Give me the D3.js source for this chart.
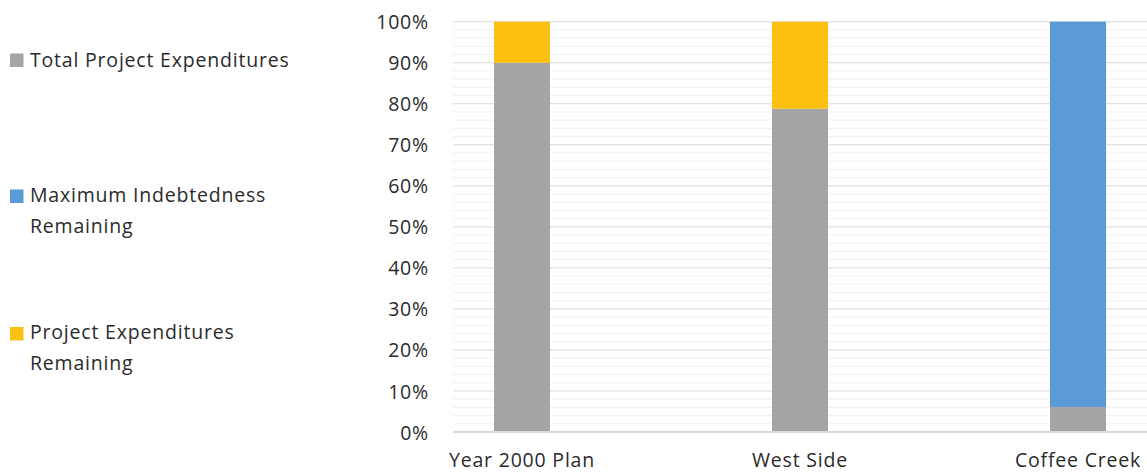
<!DOCTYPE html>
<html><head><meta charset="utf-8">
<script src="https://cdn.jsdelivr.net/npm/d3@7"></script>
<style>body{margin:0;background:#fff}svg{display:block}text{font-family:"Open Sans",sans-serif;fill:#2b2b2b}</style>
</head><body>
<svg id="c" width="1147" height="474"></svg>
<script>
const categories = ["Year 2000 Plan", "West Side", "Coffee Creek"];
const seriesNames = ["Total Project Expenditures", "Maximum Indebtedness Remaining", "Project Expenditures Remaining"];
const totalProjectExpenditures = [90, 78.8, 6.1];
const maxIndebtednessRemaining = [0, 0, 93.9];
const projectExpendituresRemaining = [10, 21.2, 0];
const yTicks = [0, 10, 20, 30, 40, 50, 60, 70, 80, 90, 100];
const colors = ["#a5a5a5", "#5b9bd5", "#fcc010"];

const FS = "19.5px", LS = "0.8px", TC = "#2b2b2b";
const svg = d3.select("#c");
const plotL = 453, plotR = 1147, yBot = 432, yTop = 21.7;
const y = d3.scaleLinear().domain([0, 100]).range([yBot, yTop]);
const x = d3.scaleBand().domain(categories).range([383, 1217]).paddingInner(0.8).paddingOuter(0.4);

// minor grid
const minor = d3.range(2, 100, 2).filter(v => v % 10 !== 0);
svg.append("g").selectAll("line").data(minor).join("line")
  .attr("x1", plotL).attr("x2", plotR).attr("y1", d => y(d)).attr("y2", d => y(d))
  .attr("stroke", "#f0f0f0").attr("stroke-width", 1);
// major grid
svg.append("g").selectAll("line").data(yTicks.filter(v => v > 0)).join("line")
  .attr("x1", plotL).attr("x2", plotR).attr("y1", d => y(d)).attr("y2", d => y(d))
  .attr("stroke", "#d9d9d9").attr("stroke-width", 1);

// stacked bars
const rows = categories.map((c, i) => ({cat: c, a: totalProjectExpenditures[i], b: maxIndebtednessRemaining[i], c2: projectExpendituresRemaining[i]}));
const stack = d3.stack().keys(["a", "b", "c2"])(rows);
const bw = 56;
svg.append("g").selectAll("g").data(stack).join("g").attr("fill", (d, i) => colors[i])
  .selectAll("rect").data(d => d).join("rect")
  .attr("x", d => x(d.data.cat) + x.bandwidth() / 2 - bw / 2).attr("width", bw)
  .attr("y", d => y(d[1])).attr("height", d => y(d[0]) - y(d[1]));

// baseline
svg.append("line").attr("x1", plotL).attr("x2", plotR).attr("y1", yBot).attr("y2", yBot)
  .attr("stroke", "#d9d9d9").attr("stroke-width", 2);

// y axis labels
const yAxis = d3.axisLeft(y).tickValues(yTicks).tickFormat(d => d + "%").tickSize(0).tickPadding(0);
const ga = svg.append("g").attr("transform", "translate(429,0)").call(yAxis);
ga.select(".domain").remove();
ga.selectAll("text").attr("font-size", FS).attr("letter-spacing", LS).attr("font-family", "Open Sans").attr("fill", TC).attr("dy", "0.36em");

// x labels
const xAxis = d3.axisBottom(x).tickSize(0).tickPadding(0);
const gx = svg.append("g").attr("transform", "translate(0,467)").call(xAxis);
gx.select(".domain").remove();
gx.selectAll("text").attr("font-size", FS).attr("letter-spacing", LS).attr("font-family", "Open Sans").attr("fill", TC).attr("y", 0).attr("dy", 0);

// legend
const legend = [
  {lines: ["Total Project Expenditures"], sq: 53.5, base: 66.5},
  {lines: ["Maximum Indebtedness", "Remaining"], sq: 189.5, base: 202},
  {lines: ["Project Expenditures", "Remaining"], sq: 327, base: 339}
];
const lg = svg.append("g");
legend.forEach((l, i) => {
  lg.append("rect").attr("x", 10).attr("y", l.sq).attr("width", 13.5).attr("height", 13.5).attr("fill", colors[i]);
  const t = lg.append("text").attr("x", 30).attr("y", l.base).attr("font-size", FS).attr("letter-spacing", LS).attr("fill", TC);
  l.lines.forEach((s, j) => t.append("tspan").attr("x", 30).attr("dy", j === 0 ? 0 : 30.5).text(s));
});
</script>
</body></html>
